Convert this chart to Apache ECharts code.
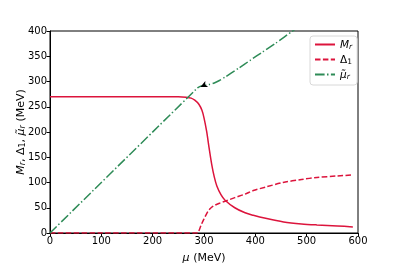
<!DOCTYPE html>
<html><head><meta charset="utf-8">
<script src="https://cdn.jsdelivr.net/npm/echarts@6/dist/echarts.min.js"></script>
<style>html,body{margin:0;padding:0;background:#fff}#c{width:399px;height:266px}</style>
</head><body><div id="c"></div>
<script>
// Data (mu in MeV)
const muM = [0, 100, 200, 250, 265, 275, 282, 290, 296, 300, 305, 310, 315, 320, 325, 333, 341, 360, 380, 396, 420, 455, 490, 520, 560, 590];
const Mr  = [270, 270, 270, 270, 269, 267, 263, 255, 243, 228, 202, 168, 136, 111, 93, 76, 65, 50, 40, 35, 29, 22, 18, 16, 14, 12];
const muD = [0, 100, 200, 288, 290, 295, 300, 305, 310, 315, 321, 330, 341, 360, 380, 396, 420, 454, 490, 520, 560, 590];
const D1  = [0, 0, 0, 0, 4, 17, 28, 38, 46, 51, 55, 59, 63, 70, 77, 84, 91, 100, 106, 110, 113, 115];
const muR = [0, 285, 289, 295, 300, 310, 320, 330, 340, 367, 390, 415, 440, 471, 480];
const MuR = [0, 285, 288.5, 291, 292, 294, 297, 302, 308, 326, 342, 359, 376, 399, 405];
const arrowPt = [293, 289];
const xTicks = [0, 100, 200, 300, 400, 500, 600];
const yTicks = [0, 50, 100, 150, 200, 250, 300, 350, 400];

const pair = (xs, ys) => xs.map((x, i) => [x, ys[i]]);
const RED = '#DC143C', GREEN = '#2E8B57';
const FONT = 'DejaVu Sans';
const chart = echarts.init(document.getElementById('c'), null, {renderer: 'canvas'});
const rich = {
  i: {fontFamily: FONT, fontStyle: 'italic', fontSize: 10.5, color: '#000', verticalAlign: 'bottom', lineHeight: 13},
  n: {fontFamily: FONT, fontSize: 10.5, color: '#000', verticalAlign: 'bottom', lineHeight: 13},
  s: {fontFamily: FONT, fontStyle: 'italic', fontSize: 7.5, color: '#000', verticalAlign: 'bottom', lineHeight: 10},
  s0: {fontFamily: FONT, fontSize: 7.5, color: '#000', verticalAlign: 'bottom', lineHeight: 10}
};
const richY = {
  i: {fontFamily: FONT, fontStyle: 'italic', fontSize: 11, color: '#000', verticalAlign: 'bottom', lineHeight: 14},
  n: {fontFamily: FONT, fontSize: 11, color: '#000', verticalAlign: 'bottom', lineHeight: 14},
  s: {fontFamily: FONT, fontStyle: 'italic', fontSize: 8, color: '#000', verticalAlign: 'bottom', lineHeight: 11},
  s0: {fontFamily: FONT, fontSize: 8, color: '#000', verticalAlign: 'bottom', lineHeight: 11}
};
const names = {Mr: '{i|M}{s|r}', D1: '{n|Δ}{s0|1}', muR: '{i|μ̃}{s|r}'};
const seriesNames = ['Mr', 'D1', 'muR'];

chart.setOption({
  animation: false,
  textStyle: {fontFamily: FONT},
  grid: {left: 50, right: 41, top: 31, bottom: 33, show: true, borderColor: '#000', borderWidth: 1,
         backgroundColor: 'transparent', containLabel: false, outerBoundsMode: 'none'},
  legend: {
    orient: 'vertical', left: 310, top: 36, itemWidth: 20, itemHeight: 8, itemGap: 4,
    padding: [4, 5, 4, 4], borderColor: '#d8d8d8', borderWidth: 1, borderRadius: 3,
    data: seriesNames,
    itemStyle: {opacity: 0},
    formatter: n => names[n],
    textStyle: {rich: rich, fontSize: 10}
  },
  xAxis: {
    type: 'value', min: 0, max: 600, interval: 100,
    name: '{i|μ} {n|(MeV)}', nameLocation: 'middle', nameGap: 17, nameMoveOverlap: false,
    nameTextStyle: {rich: richY},
    axisLine: {show: true, onZero: false, lineStyle: {color: '#000', width: 1}},
    axisTick: {show: true, inside: false, length: 3.5, lineStyle: {color: '#000'}},
    axisLabel: {color: '#000', fontSize: 10, fontFamily: FONT, margin: 3,
      formatter: v => xTicks.includes(v) ? String(v) : ''},
    splitLine: {show: false}
  },
  yAxis: {
    type: 'value', min: 0, max: 400, interval: 50,
    name: '{i|M}{s|r}{n|, Δ}{s0|1}{n|, }{i|μ̃}{s|r}{n| (MeV)}', nameLocation: 'middle', nameGap: 23, nameRotate: 90,
    nameMoveOverlap: false,
    nameTextStyle: {rich: richY},
    axisLine: {show: true, onZero: false, lineStyle: {color: '#000', width: 1}},
    axisTick: {show: true, inside: false, length: 3.5, lineStyle: {color: '#000'}},
    axisLabel: {color: '#000', fontSize: 10, fontFamily: FONT, margin: 3,
      formatter: v => yTicks.includes(v) ? String(v) : ''},
    splitLine: {show: false}
  },
  series: [
    {name: 'Mr', type: 'line', data: pair(muM, Mr), symbol: 'none', smooth: 0.3, clip: true,
     lineStyle: {color: RED, width: 1.5, type: 'solid'}, itemStyle: {color: RED}},
    {name: 'D1', type: 'line', data: pair(muD, D1), symbol: 'none', smooth: 0.3, clip: true, z: 3,
     lineStyle: {color: RED, width: 1.5, type: [5.5, 2.4]}, itemStyle: {color: RED}},
    {name: 'muR', type: 'line', data: pair(muR, MuR), symbol: 'none', smooth: 0.2, clip: true,
     lineStyle: {color: GREEN, width: 1.5, type: [9.6, 2.4, 1.5, 2.4]}, itemStyle: {color: GREEN},
     markPoint: {
       symbol: 'arrow', symbolSize: [5, 7], symbolRotate: 115, silent: true,
       itemStyle: {color: '#000'}, label: {show: false},
       data: [{coord: arrowPt}]
     }}
  ]
});
</script></body></html>
